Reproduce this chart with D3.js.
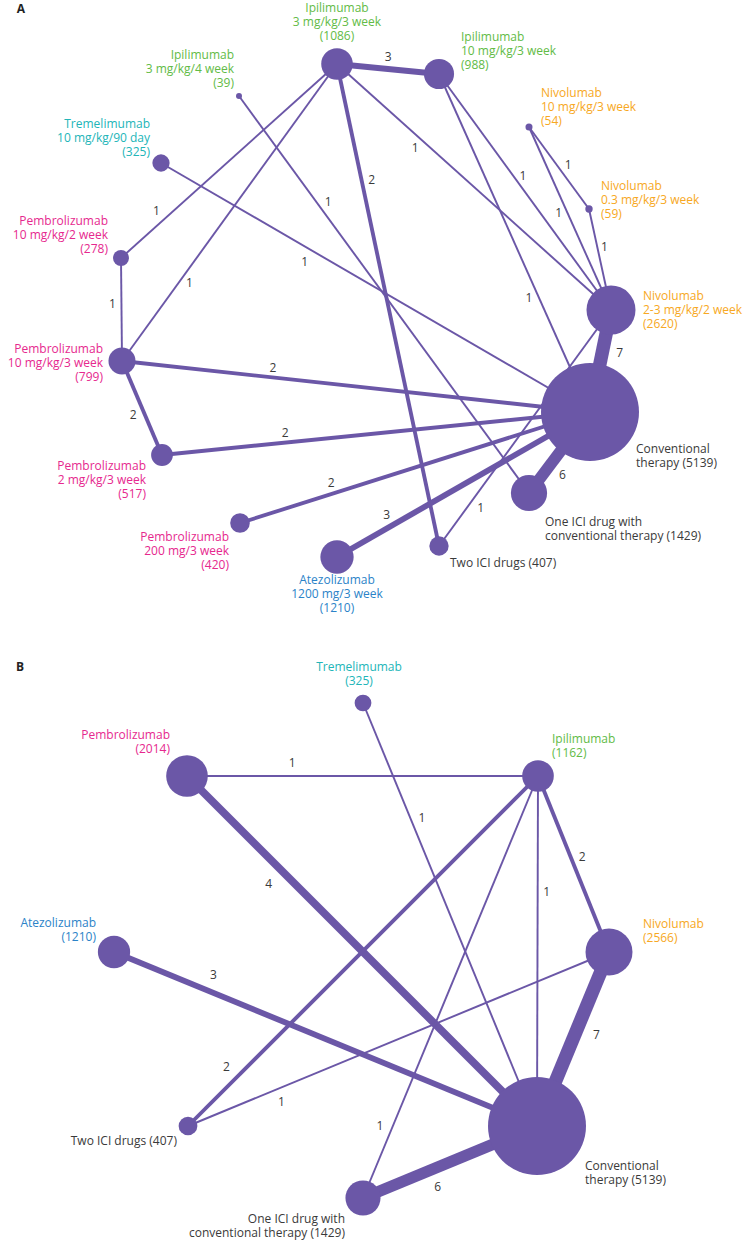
<!DOCTYPE html>
<html><head><meta charset="utf-8">
<script src="https://cdn.jsdelivr.net/npm/d3@7"></script>
<style>
body{margin:0;background:#fff}
text{font-family:"Open Sans",sans-serif}
</style>
</head><body>
<svg id="chart" width="750" height="1241"></svg>
<script>
// ---------------- DATA ----------------
// Panel A: treatment nodes (drug, dose, patients)
const aDrugs = ["Ipilimumab","Ipilimumab","Ipilimumab","Tremelimumab","Pembrolizumab","Pembrolizumab","Pembrolizumab","Pembrolizumab","Atezolizumab","Nivolumab","Nivolumab","Nivolumab","Conventional therapy","One ICI drug with conventional therapy","Two ICI drugs"];
const aDoses = ["3 mg/kg/3 week","10 mg/kg/3 week","3 mg/kg/4 week","10 mg/kg/90 day","10 mg/kg/2 week","10 mg/kg/3 week","2 mg/kg/3 week","200 mg/3 week","1200 mg/3 week","10 mg/kg/3 week","0.3 mg/kg/3 week","2-3 mg/kg/2 week","","",""];
const aPatients = [1086,988,39,325,278,799,517,420,1210,54,59,2620,5139,1429,407];
// Panel A comparisons: [node, node, number of trials]
const aEdges = [[0,1,3],[0,14,2],[0,4,1],[0,5,1],[0,11,1],[1,11,1],[1,12,1],[2,13,1],[3,12,1],[4,5,1],[5,12,2],[5,6,2],[6,12,2],[7,12,2],[8,12,3],[9,10,1],[9,11,1],[10,11,1],[11,12,7],[13,12,6],[11,14,1]];

// Panel B
const bDrugs = ["Tremelimumab","Pembrolizumab","Ipilimumab","Nivolumab","Atezolizumab","Two ICI drugs","One ICI drug with conventional therapy","Conventional therapy"];
const bPatients = [325,2014,1162,2566,1210,407,1429,5139];
const bEdges = [[1,2,1],[1,7,4],[0,7,1],[2,3,2],[2,7,1],[2,5,2],[2,6,1],[4,7,3],[3,5,1],[3,7,7],[6,7,6]];

// ---------------- LAYOUT (positions, not values) ----------------
const aPos = [[337,64],[439,74],[239,96],[161,163],[121,258],[122,361],[162,455],[240,523],[337,557],[529,127],[589,209],[611,310],[590,412],[529,493],[439,546]];
// label: [dx, dy(first line centre), anchor, words before line break]
const aLab = [[0,-56,"middle"],[22,-37,"start"],[-5,-41,"end"],[-11,-39,"end"],[-13,-37,"end"],[-19,-12,"end"],[-16,11,"end"],[-11,14,"end"],[0,23,"middle"],[12,-34,"start"],[12,-23,"start"],[32,-14,"start"],[46,37,"start",1],[16,29,"start",4],[11,17,"start",0]];
// edge label: [fraction along edge, perpendicular offset]
const aEdgeLab = [[.49,-12],[.245,-10],[.80,11.5],[.72,-9],[.31,10],[.45,-8],[.65,9],[.28,-10],[.35,13],[.44,9],[.32,-10],[.53,11],[.29,-10],[.27,-11],[.22,-12],[.53,-9],[.45,8],[.39,-7],[.38,-17],[.34,16],[.81,-11]];

const bPos = [[363,83],[187,156],[538,156],[609,332],[114,332],[188,506],[363,578],[537,506]];
const bLab = [[-4,-36,"middle"],[-17,-41,"end"],[14,-37,"start"],[34,-28,"start"],[-18,-29,"end"],[-11,15,"end",0],[-18,21,"end",4],[48,40,"start",1]];
const bEdgeLab = [[.30,-13],[.27,18],[.28,-11],[.48,-11],[.33,-9],[.86,15],[.84,12],[.22,-17],[.79,-13],[.43,-20],[.39,18]];

// ---------------- STYLE ----------------
const drugColor = {Ipilimumab:"#62bb46",Tremelimumab:"#22b5b8",Pembrolizumab:"#e6288e",Atezolizumab:"#2b83c8",Nivolumab:"#f7a823"};
const nodeColor = "#6b57a7";
const textColor = "#3a3a3a";
const lineH = 13.8;

const svg = d3.select("#chart");
svg.append("rect").attr("width",750).attr("height",1241).attr("fill","#fff");

const widthScale = d3.scaleLinear().domain([0,7]).range([0,13.5]);

function drawPanel(opts){
  const {drugs, doses, patients, edges, pos, lab, edgeLab, yRange, rScale, letter, letterPos} = opts;
  const x = d3.scaleLinear().domain([0,750]).range([0,750]);
  const y = d3.scaleLinear().domain([0,yRange[1]-yRange[0]]).range(yRange);
  const g = svg.append("g");
  const P = i => [x(pos[i][0]), y(pos[i][1])];

  g.append("g").selectAll("line").data(edges).join("line")
    .attr("x1",d=>P(d[0])[0]).attr("y1",d=>P(d[0])[1])
    .attr("x2",d=>P(d[1])[0]).attr("y2",d=>P(d[1])[1])
    .attr("stroke",nodeColor).attr("stroke-width",d=>widthScale(d[2]))
    .attr("stroke-linecap","butt");

  g.append("g").selectAll("circle").data(patients).join("circle")
    .attr("cx",(d,i)=>P(i)[0]).attr("cy",(d,i)=>P(i)[1])
    .attr("r",d=>rScale(d)).attr("fill",nodeColor);

  // edge labels
  g.append("g").selectAll("text").data(edges).join("text")
    .each(function(d,i){
      const [s,e]=[P(d[0]),P(d[1])];
      const dx=e[0]-s[0], dy=e[1]-s[1], len=Math.hypot(dx,dy);
      const ux=dx/len, uy=dy/len, nx=-uy, ny=ux;
      const [t,off]=edgeLab[i];
      d3.select(this).attr("x",s[0]+dx*t+nx*off).attr("y",s[1]+dy*t+ny*off);
    })
    .attr("text-anchor","middle").attr("dy","0.36em")
    .attr("font-size",12).attr("fill",textColor).text(d=>d[2]);

  // node labels
  const lg = g.append("g");
  drugs.forEach((name,i)=>{
    const L = lab[i];
    let lines;
    if (drugColor[name]) {
      lines = [name];
      if (doses && doses[i]) lines.push(doses[i]);
      lines.push(`(${patients[i]})`);
    } else {
      const words = (name+` (${patients[i]})`).split(" ");
      const br = L[3];
      lines = br ? [words.slice(0,br).join(" "), words.slice(br).join(" ")] : [words.join(" ")];
    }
    const [px,py]=P(i);
    const t = lg.append("text").attr("text-anchor",L[2]).attr("font-size",12)
      .attr("fill",drugColor[name]||textColor);
    lines.forEach((ln,k)=>{
      t.append("tspan").attr("x",px+L[0]).attr("y",py+L[1]+k*lineH).attr("dy","0.36em").text(ln);
    });
  });

  svg.append("text").attr("x",letterPos[0]).attr("y",letterPos[1]).attr("dy","0.36em")
    .attr("text-anchor","middle").attr("font-size",12).attr("font-weight","bold")
    .attr("fill","#222").text(letter);
}

drawPanel({drugs:aDrugs, doses:aDoses, patients:aPatients, edges:aEdges, pos:aPos, lab:aLab, edgeLab:aEdgeLab,
  yRange:[0,620], rScale:d3.scaleSqrt().domain([0,2620,5139]).range([0,24.5,49]), letter:"A", letterPos:[21,9]});
drawPanel({drugs:bDrugs, doses:null, patients:bPatients, edges:bEdges, pos:bPos, lab:bLab, edgeLab:bEdgeLab,
  yRange:[620,1241], rScale:d3.scaleSqrt().domain([0,2566,5139]).range([0,23.5,49]), letter:"B", letterPos:[20,667]});
</script>
</body></html>
